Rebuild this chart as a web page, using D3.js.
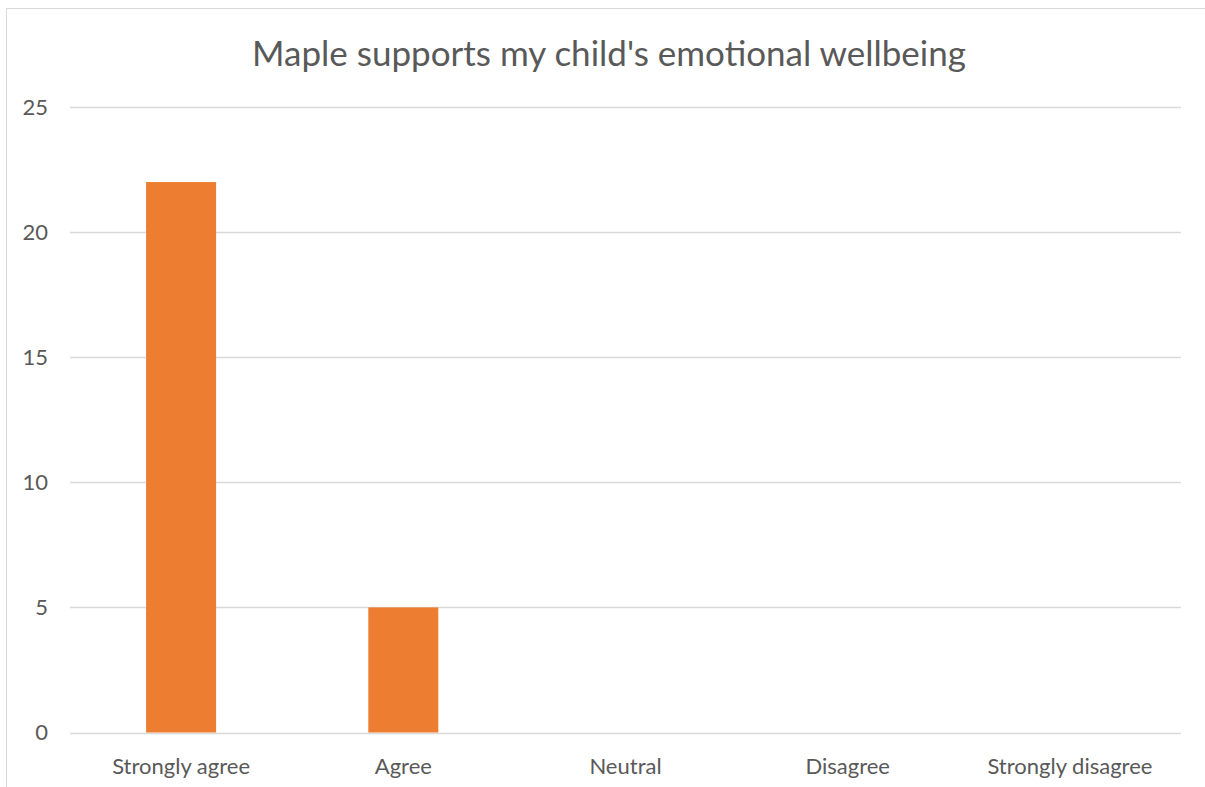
<!DOCTYPE html>
<html><head><meta charset="utf-8">
<script src="https://cdn.jsdelivr.net/npm/d3@7"></script>
<style>body{margin:0;background:#fff}svg{display:block}</style>
</head><body>
<script>
const categories = ["Strongly agree","Agree","Neutral","Disagree","Strongly disagree"];
const values = [22,5,0,0,0];
const yTicks = [0,5,10,15,20,25];
const title = "Maple supports my child's emotional wellbeing";

(function(){
const W = 1205, H = 787;
const svg = d3.select("body").append("svg").attr("width",W).attr("height",H);
svg.append("rect").attr("x",6.5).attr("y",8.5).attr("width",1300).attr("height",900)
  .attr("fill","#fff").attr("stroke","#d9d9d9").attr("stroke-width",1);

const mLeft = 70, mRight = 1181, mTop = 107, mBottom = 732.5;
const x = d3.scaleBand().domain(categories).range([mLeft,mRight]).padding(0);
const y = d3.scaleLinear().domain([0,25]).range([mBottom,mTop]);
const font = "Lato, 'Open Sans', sans-serif";

svg.append("g").selectAll("line").data(yTicks).join("line")
  .attr("x1",mLeft).attr("x2",mRight)
  .attr("y1",d=>Math.round(y(d))+0.5).attr("y2",d=>Math.round(y(d))+0.5)
  .attr("stroke","#d9d9d9").attr("stroke-width",1.5);

svg.append("g").selectAll("text").data(yTicks).join("text")
  .attr("x",48).attr("y",d=>y(d)).attr("dy","0.35em")
  .attr("text-anchor","end").attr("font-family",font).attr("font-size",22)
  .attr("fill","#595959").text(d=>d);

const bw = x.bandwidth()*0.315;
svg.append("g").selectAll("rect").data(categories.map((c,i)=>({c,v:values[i]}))).join("rect")
  .attr("x",d=>x(d.c)+x.bandwidth()/2-bw/2).attr("width",bw)
  .attr("y",d=>y(d.v)).attr("height",d=>y(0)-y(d.v))
  .attr("fill","#ED7D31");

svg.append("g").selectAll("text").data(categories).join("text")
  .attr("x",d=>x(d)+x.bandwidth()/2).attr("y",774)
  .attr("text-anchor","middle").attr("font-family",font).attr("font-size",22)
  .attr("fill","#595959").text(d=>d);

svg.append("text").attr("x",609).attr("y",66).attr("text-anchor","middle")
  .attr("font-family",font).attr("font-size",35).attr("fill","#595959").text(title);
})();
</script>
</body></html>
